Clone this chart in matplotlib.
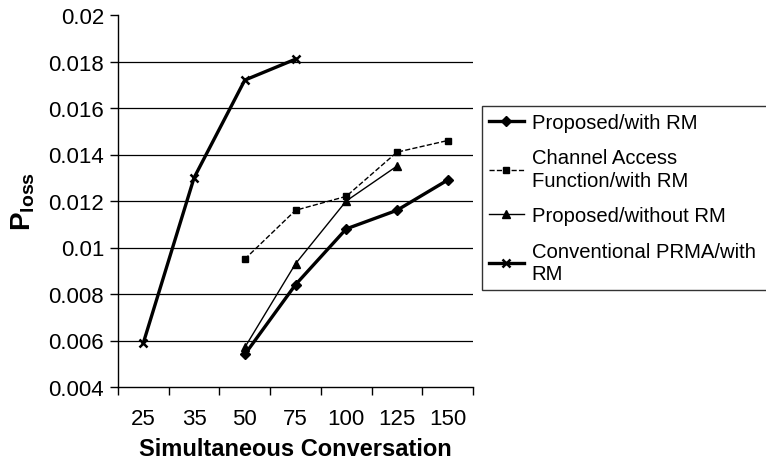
import numpy as np
import matplotlib
matplotlib.use('Agg')
import matplotlib.pyplot as plt

plt.rcParams.update({
    'font.family': ['Liberation Sans', 'DejaVu Sans'],
    'mathtext.fontset': 'custom',
    'mathtext.rm': 'Liberation Sans',
    'mathtext.bf': 'Liberation Sans:bold',
})

# ---- data ----
categories = ['25', '35', '50', '75', '100', '125', '150']
proposed_rm = [None, None, 0.0054, 0.0084, 0.0108, 0.0116, 0.0129]
channel_rm = [None, None, 0.0095, 0.0116, 0.0122, 0.0141, 0.0146]
proposed_no_rm = [None, None, 0.0057, 0.0093, 0.0120, 0.0135, None]
prma_rm = [0.0059, 0.0130, 0.0172, 0.0181, None, None, None]
y_ticks = [0.004, 0.006, 0.008, 0.01, 0.012, 0.014, 0.016, 0.018, 0.02]
y_tick_labels = ['0.004', '0.006', '0.008', '0.01', '0.012', '0.014', '0.016', '0.018', '0.02']


def as_xy(vals):
    x = [i + 0.5 for i, v in enumerate(vals) if v is not None]
    y = [v for v in vals if v is not None]
    return x, y


fig = plt.figure(figsize=(7.66, 4.64), dpi=100)
ax = fig.add_axes([118 / 766, 1 - 388 / 464, (473 - 118) / 766, (388 - 16) / 464])

# horizontal gridlines (Excel style, none at the top or bottom)
for yv in y_ticks[1:-1]:
    ax.axhline(yv, color='black', linewidth=0.9, zorder=1)

x, y = as_xy(proposed_rm)
ax.plot(x, y, '-', color='black', lw=2.4, marker='D', ms=5, label='Proposed/with RM', zorder=3)
x, y = as_xy(channel_rm)
ax.plot(x, y, '--', color='black', lw=1.0, marker='s', ms=4.5, label='Channel Access\nFunction/with RM', zorder=3)
x, y = as_xy(proposed_no_rm)
ax.plot(x, y, '-', color='black', lw=1.0, marker='^', ms=6, label='Proposed/without RM', zorder=3)
x, y = as_xy(prma_rm)
ax.plot(x, y, '-', color='black', lw=2.4, marker='x', ms=6, mew=1.8, label='Conventional PRMA/with\nRM', zorder=3)

ax.set_xlim(0, len(categories))
ax.set_ylim(0.004, 0.02)
ax.set_yticks(y_ticks)
ax.set_yticklabels(y_tick_labels)
ax.set_xticks(np.arange(len(categories) + 1))
ax.set_xticklabels([])
ax.set_xticks(np.arange(len(categories)) + 0.5, minor=True)
ax.set_xticklabels(categories, minor=True)
ax.tick_params(axis='x', which='minor', length=0, labelsize=16, pad=15)
ax.tick_params(axis='x', which='major', length=6, width=1, direction='out')
ax.tick_params(axis='y', length=6, width=1, direction='out', labelsize=16, pad=4)

for s in ['top', 'right']:
    ax.spines[s].set_visible(False)
ax.spines['left'].set_linewidth(1)
ax.spines['bottom'].set_linewidth(1)

ax.set_xlabel('Simultaneous Conversation', fontsize=17, fontweight='bold', labelpad=6)
ax.set_ylabel(r'$\mathbf{P_{loss}}$', fontsize=20, labelpad=8)

leg = fig.legend(loc='upper left', bbox_to_anchor=(482 / 766, 1 - 107 / 464, 0.45, 0.0),
                 mode='expand', fontsize=14.6, frameon=True, fancybox=False,
                 edgecolor='black', handlelength=1.7, handletextpad=0.4,
                 labelspacing=0.8, borderpad=0.35, borderaxespad=0)
leg.get_frame().set_linewidth(1.0)
for t in leg.get_texts():
    t.set_linespacing(1.25)

fig.savefig('out.png', dpi=100)
